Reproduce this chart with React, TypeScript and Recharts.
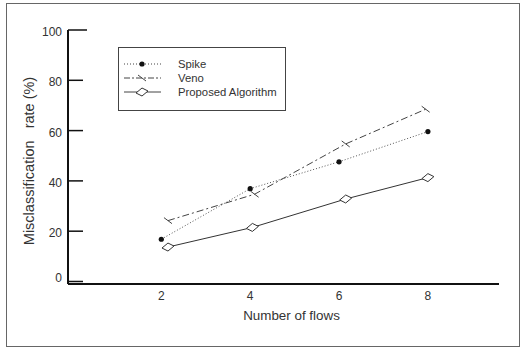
import { LineChart, Line, XAxis, YAxis } from "recharts";

const spikeX = [2, 4, 6, 8];
const spikeY = [16.8, 36.9, 47.6, 59.6];
const venoX = [2.15, 4.1, 6.15, 7.95];
const venoY = [24.2, 34.7, 54.7, 68.5];
const proposedX = [2.15, 4.05, 6.15, 8.0];
const proposedY = [13.7, 21.5, 32.8, 41.3];
const xTicks = [2, 4, 6, 8];
const yTicks = [0, 20, 40, 60, 80, 100];
const seriesNames = ["Spike", "Veno", "Proposed Algorithm"];

const spike = spikeX.map((x, i) => ({ x, y: spikeY[i] }));
const veno = venoX.map((x, i) => ({ x, y: venoY[i] }));
const proposed = proposedX.map((x, i) => ({ x, y: proposedY[i] }));

const FONT = "'Liberation Sans', Arial, sans-serif";
const TEXT = "#333";

const SpikeDot = (p: any) => <circle cx={p.cx} cy={p.cy} r={2.6} fill="#111" />;
const VenoDot = (p: any) => (
  <line x1={p.cx - 4} y1={p.cy - 3} x2={p.cx + 4} y2={p.cy + 3} stroke="#444" strokeWidth={1} />
);
const Diamond = (p: any) => (
  <path
    d={`M${p.cx - 6},${p.cy + 1} L${p.cx},${p.cy - 4} L${p.cx + 6},${p.cy - 1} L${p.cx},${p.cy + 4} Z`}
    fill="#fff"
    stroke="#333"
    strokeWidth={1}
  />
);

const YTick = (p: any) => {
  const v = p.payload.value;
  return (
    <g>
      <line x1={p.x + 5} y1={p.y} x2={p.x + (v === 100 ? 24 : 20)} y2={p.y} stroke="#111" strokeWidth={1.5} />
      <text x={p.x - 1} y={p.y} dy={v === 0 ? 1 : 6} textAnchor="end" fontSize={12} fill={TEXT} fontFamily={FONT}>
        {v}
      </text>
    </g>
  );
};

const LegendBox = () => {
  const styles = [
    { dash: "1 2", dot: SpikeDot },
    { dash: "6 2 2 2", dot: VenoDot },
    { dash: undefined, dot: Diamond },
  ];
  return (
    <svg width={168} height={64} style={{ display: "block" }}>
      <rect x={0.5} y={0.5} width={167} height={63} fill="#fff" stroke="#444" />
      {seriesNames.map((name, i) => {
        const cy = 17 + i * 14;
        const D = styles[i].dot;
        return (
          <g key={name}>
            <line x1={6} y1={cy} x2={43} y2={cy} stroke="#444" strokeDasharray={styles[i].dash} />
            <D cx={24} cy={cy} />
            <text x={60} y={cy + 4} fontSize={11.3} fill={TEXT} fontFamily={FONT}>
              {name}
            </text>
          </g>
        );
      })}
    </svg>
  );
};

export default function App() {
  return (
    <div style={{ position: "absolute", left: 0, top: 0, width: 522, height: 348, background: "#fff" }}>
      <div
        style={{
          position: "absolute",
          left: 6,
          top: 3,
          width: 512,
          height: 342,
          border: "1px solid #666",
        }}
      />
      <div style={{ position: "absolute", left: 0, top: 0 }}>
        <LineChart width={522} height={348} margin={{ top: 30, right: 23, left: 28, bottom: 34 }}>
          <XAxis
            type="number"
            dataKey="x"
            domain={[-0.1, 9.6]}
            ticks={xTicks}
            allowDataOverflow
            axisLine={{ stroke: "#111", strokeWidth: 2 }}
            tickLine={false}
            tickSize={0}
            tickMargin={7}
            height={30}
            tick={{ fontSize: 12, fill: TEXT, fontFamily: FONT }}
            label={(props: any) => {
              const vb = props.viewBox;
              return (
                <text
                  x={vb.x + vb.width / 2 + 8}
                  y={vb.y + 36}
                  textAnchor="middle"
                  fontSize={13.4}
                  fill={TEXT}
                  fontFamily={FONT}
                >
                  Number of flows
                </text>
              );
            }}
          />
          <YAxis
            type="number"
            domain={[-1, 100]}
            ticks={yTicks}
            allowDataOverflow
            width={40}
            axisLine={{ stroke: "#111", strokeWidth: 2 }}
            tickLine={false}
            tickSize={0}
            tickMargin={5}
            tick={<YTick />}
            label={(props: any) => {
              const vb = props.viewBox;
              const cx = vb.x + 1;
              const cy = vb.y + vb.height / 2 + 4;
              return (
                <text
                  x={cx}
                  y={cy}
                  transform={`rotate(-90 ${cx} ${cy})`}
                  textAnchor="middle"
                  dominantBaseline="central"
                  fontSize={14.5}
                  fill={TEXT}
                  fontFamily={FONT}
                  style={{ whiteSpace: "pre" }}
                >
                  {"Misclassification   rate (%)"}
                </text>
              );
            }}
          />
          <Line
            data={spike}
            dataKey="y"
            name={seriesNames[0]}
            stroke="#555"
            strokeWidth={1}
            strokeDasharray="1 2"
            dot={<SpikeDot />}
            isAnimationActive={false}
          />
          <Line
            data={veno}
            dataKey="y"
            name={seriesNames[1]}
            stroke="#444"
            strokeWidth={1}
            strokeDasharray="7 3 2 3"
            dot={<VenoDot />}
            isAnimationActive={false}
          />
          <Line
            data={proposed}
            dataKey="y"
            name={seriesNames[2]}
            stroke="#333"
            strokeWidth={1}
            dot={<Diamond />}
            isAnimationActive={false}
          />
        </LineChart>
      </div>
      <div style={{ position: "absolute", left: 118, top: 47 }}>
        <LegendBox />
      </div>
    </div>
  );
}
